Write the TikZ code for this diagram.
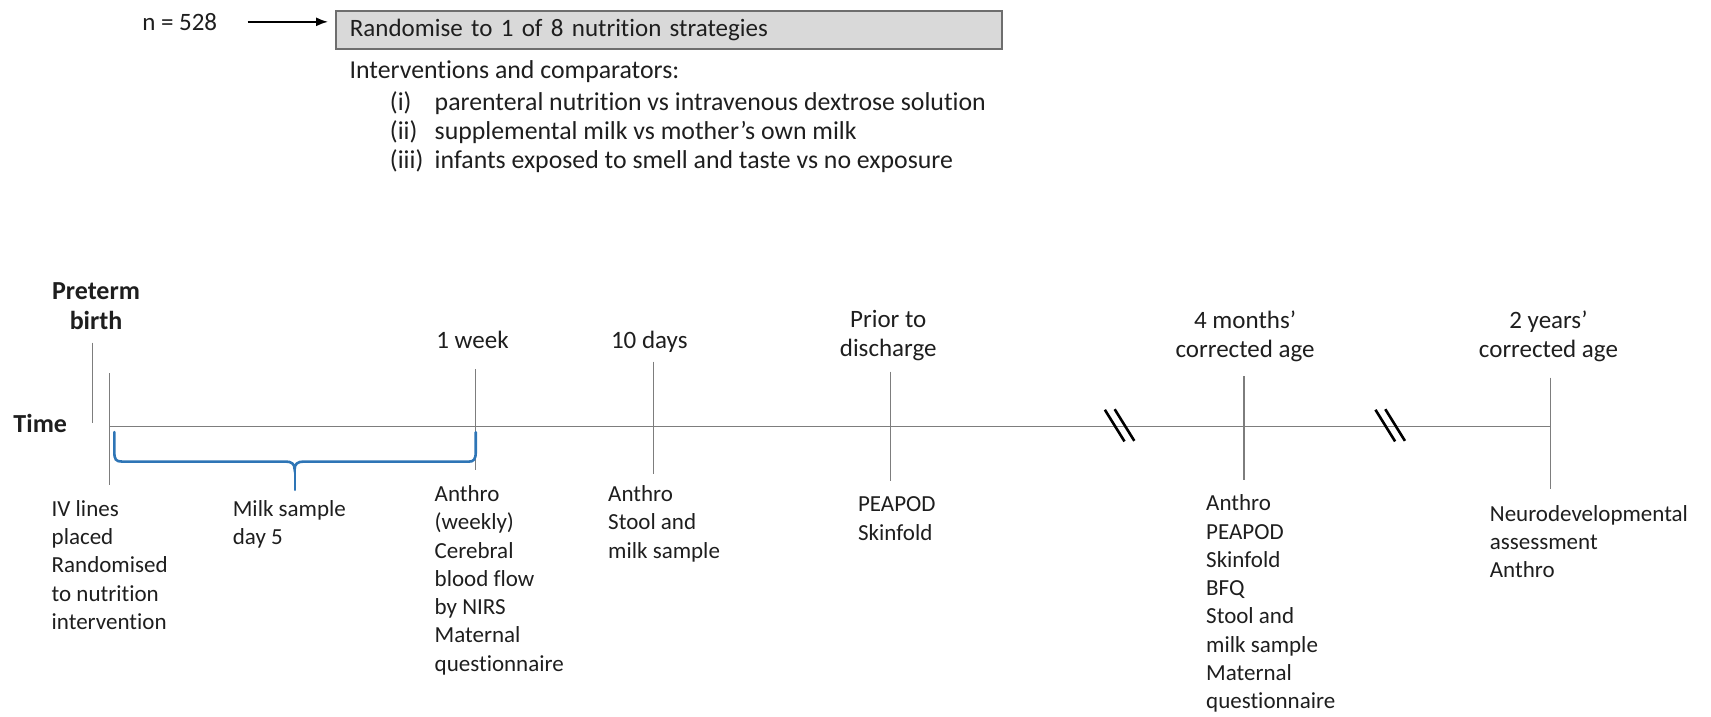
\documentclass[tikz,border=0pt]{standalone}
\usepackage{fontspec}
\setmainfont{Carlito}[Ligatures={TeX,NoCommon}]
\usetikzlibrary{arrows.meta}
\definecolor{tlgray}{RGB}{125,125,125}
\definecolor{boxfill}{RGB}{217,217,217}
\definecolor{boxline}{RGB}{110,110,110}
\definecolor{braceblue}{RGB}{46,117,182}
\definecolor{txt}{RGB}{30,30,30}
\begin{document}
\begin{tikzpicture}[x=0.5456pt,y=-0.5456pt,
  every node/.style={text=txt},
  lbl/.style={inner sep=0pt, font=\fontsize{11.5}{14.15}\selectfont, align=left, anchor=north west,
              execute at begin node=\rule{0pt}{9pt}},
  toplbl/.style={inner sep=0pt, font=\fontsize{12.5}{14.5}\selectfont, align=center, anchor=north,
              execute at begin node=\rule{0pt}{9.5pt}},
  headlbl/.style={inner sep=0pt, font=\fontsize{12.5}{13.8}\selectfont, align=left},
  listlbl/.style={inner sep=0pt, font=\fontsize{12.9}{14.5}\selectfont, align=left},
  boldlbl/.style={inner sep=0pt, font=\fontsize{13}{14.7}\selectfont\bfseries, align=center},
  tickline/.style={draw=tlgray, line width=0.6pt},
  brk/.style={draw=black, line width=1.3pt},
  bracestyle/.style={draw=braceblue, line width=1.3pt, line cap=round},
  ]
\useasboundingbox (0,0) rectangle (1568,657);

% ---------- top part ----------
\node[headlbl, anchor=west] (n) at (130,20) {n = 528};
\node[draw=boxline, fill=boxfill, line width=0.9pt, anchor=north west,
      inner xsep=7pt, inner ysep=0pt, text width=319pt, minimum height=19pt,
      font=\fontsize{12.5}{13.8}\selectfont, align=left] (box) at (307,9)
      {Randomise to 1 of 8 nutrition strategies};
\draw[line width=0.8pt, -{Latex[length=6pt,width=4.5pt]}, shorten <=15pt, shorten >=3.5pt] (n.east) -- (n.east -| box.west);

\node[listlbl, anchor=north west] (intro) at (320,55) {Interventions and comparators:};
\node[listlbl, anchor=north west] (list) at (357,84)
  {\makebox[22.4pt][l]{(i)}parenteral nutrition vs intravenous dextrose solution\\
   \makebox[22.4pt][l]{(ii)}supplemental milk vs mother’s own milk\\
   \makebox[22.4pt][l]{(iii)}infants exposed to smell and taste vs no exposure};

% ---------- timeline ----------
\coordinate (tstart) at (100,391);
\coordinate (tend) at (1421,391);
\draw[tickline] (tstart) -- (tend);

\node[boldlbl, anchor=north] (preterm) at (88,259) {Preterm\\birth};
\node[boldlbl, anchor=west] (time) at (12,388) {Time};

\coordinate (lead1) at (84.6,314); \coordinate (lead2) at (84.6,388);
\draw[tickline] (lead1) -- (lead2);

\coordinate (t0a) at (100.2,342); \coordinate (t0b) at (100.2,444.5);
\coordinate (t1a) at (436,338.5); \coordinate (t1b) at (436,431);
\coordinate (t2a) at (599,331.5); \coordinate (t2b) at (599,434);
\coordinate (t3a) at (816,340.6); \coordinate (t3b) at (816,441);
\coordinate (t4a) at (1140,344.6);\coordinate (t4b) at (1140,440);
\coordinate (t5a) at (1421,346);  \coordinate (t5b) at (1421,448);
\foreach \t in {t0,t1,t2,t3,t4,t5} \draw[tickline] (\t a) -- (\t b);

% break marks
\foreach \cx/\nm in {1026/ba,1274/bb}{
  \coordinate (\nm1a) at (\cx-13.5,375.5); \coordinate (\nm1b) at (\cx+4.5,404.5);
  \coordinate (\nm2a) at (\cx-4.5,375);    \coordinate (\nm2b) at (\cx+13.5,404);
  \draw[brk] (\nm1a) -- (\nm1b);
  \draw[brk] (\nm2a) -- (\nm2b);
}

% brace
\coordinate (brL) at (104.8,396);
\coordinate (brR) at (436,396);
\coordinate (brTip) at (270,449);
\draw[bracestyle] (brL) -- (104.8,414) .. controls (104.8,421) and (106,423) .. (112,423) -- (262,423)
   .. controls (267,423) and (270,425) .. (270,430)
   .. controls (270,425) and (273,423) .. (278,423) -- (430,423)
   .. controls (434,423) and (436,421) .. (436,414) -- (brR);
\draw[bracestyle, line width=1.1pt] (270,428) -- (brTip);

% top labels
\node[toplbl] (w1) at (433,302) {1 week};
\node[toplbl] (d10) at (595,302) {10 days};
\node[toplbl] (dis) at (814,284.4) {Prior to\\discharge};
\node[toplbl] (m4) at (1141,284.4) {4 months’\\corrected age};
\node[toplbl] (y2) at (1419,284.4) {2 years’\\corrected age};

% bottom labels
\node[lbl] (b0) at (47,458) {IV lines\\placed\\Randomised\\to nutrition\\intervention};
\node[lbl] (bm) at (213,458) {Milk sample\\day 5};
\node[lbl] (b1) at (398,444.5) {Anthro\\(weekly)\\Cerebral\\blood flow\\by NIRS\\Maternal\\questionnaire};
\node[lbl] (b2) at (557,444.5) {Anthro\\Stool and\\milk sample};
\node[lbl] (b3) at (786,455) {PEAPOD\\Skinfold};
\node[lbl] (b4) at (1105,453) {Anthro\\PEAPOD\\Skinfold\\BFQ\\Stool and\\milk sample\\Maternal\\questionnaire};
\node[lbl] (b5) at (1365,462.5) {Neurodevelopmental\\assessment\\Anthro};
\end{tikzpicture}
\end{document}
